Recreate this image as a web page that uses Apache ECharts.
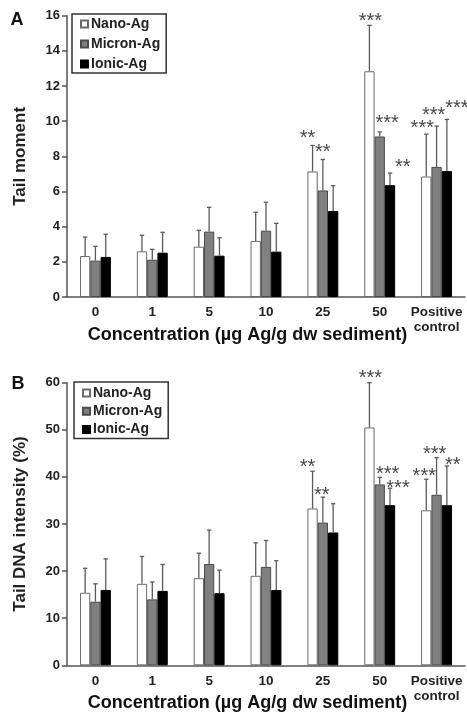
<!DOCTYPE html>
<html>
<head>
<meta charset="utf-8">
<script src="https://cdn.jsdelivr.net/npm/echarts@6/dist/echarts.min.js"></script>
<style>
html,body{margin:0;padding:0;background:#fff;}
#chart{width:467px;height:714px;}
</style>
</head>
<body>
<div id="chart"></div>
<script>
// ---------- DATA ----------
const categories = ['0', '1', '5', '10', '25', '50', 'Positive\ncontrol'];
const seriesNames = ['Nano-Ag', 'Micron-Ag', 'Ionic-Ag'];

// Panel A: Tail moment (mean and SD)
const nanoA   = [2.33, 2.60, 2.86, 3.19, 7.14, 12.84, 6.85];
const nanoASD = [1.08, 0.91, 0.93, 1.63, 1.48, 2.61, 2.41];
const micronA   = [2.07, 2.12, 3.72, 3.77, 6.06, 9.13, 7.40];
const micronASD = [0.81, 0.59, 1.38, 1.62, 1.76, 0.26, 2.32];
const ionicA   = [2.28, 2.52, 2.35, 2.58, 4.89, 6.36, 7.16];
const ionicASD = [1.29, 1.16, 1.02, 1.61, 1.44, 0.69, 2.94];
const nanoAStars   = ['', '', '', '', '**', '***', '***'];
const micronAStars = ['', '', '', '', '**', '***', '***'];
const ionicAStars  = ['', '', '', '', '', '**', '***'];

// Panel B: Tail DNA intensity (%) (mean and SD)
const nanoB   = [15.4, 17.3, 18.5, 19.0, 33.3, 50.5, 32.9];
const nanoBSD = [5.2, 5.8, 5.3, 7.0, 7.9, 9.5, 6.6];
const micronB   = [13.5, 14.0, 21.5, 20.9, 30.3, 38.4, 36.2];
const micronBSD = [3.8, 3.7, 7.2, 5.6, 5.4, 1.5, 7.9];
const ionicB   = [16.0, 15.8, 15.3, 16.0, 28.2, 34.0, 34.0];
const ionicBSD = [6.6, 5.6, 4.9, 6.2, 6.1, 3.6, 8.3];
const nanoBStars   = ['', '', '', '', '**', '***', '***'];
const micronBStars = ['', '', '', '', '**', '***', '***'];
const ionicBStars  = ['', '', '', '', '', '***', '**'];

const yTicksA = [0, 16, 2];   // min, max, interval
const yTicksB = [0, 60, 10];

// ---------- STYLE / LAYOUT ----------
const FONT = 'Arial, "Liberation Sans", Helvetica, sans-serif';
const BAR_W = 10.3;
const barStyles = [
  {color: '#ffffff', borderColor: '#6a6a6a', borderWidth: 1},
  {color: '#808080', borderColor: '#4a4a4a', borderWidth: 1},
  {color: '#000000', borderColor: '#000000', borderWidth: 1}
];
// star label offsets [dx, dy above error top] per panel/series/category (layout only)
const starOffA = [
  [null, null, null, null, [-5, 12], [1, 9], [-4, 11]],
  [null, null, null, null, [0, 12], [7.5, 13], [-3, 16]],
  [null, null, null, null, null, [12.7, 11], [10, 16]]
];
const starOffB = [
  [null, null, null, null, [-5, 9], [1, 9], [-2, 8]],
  [null, null, null, null, [-1, 7], [8, 8], [-2, 8]],
  [null, null, null, null, null, [8, 5], [6, 6]]
];

function barSeries(name, values, k, g) {
  return {
    name: name, type: 'bar', xAxisIndex: g, yAxisIndex: g,
    data: values, barWidth: BAR_W, barGap: '0%',
    itemStyle: barStyles[k], silent: true, z: 2
  };
}

function errSeries(means, sds, stars, k, g, offs) {
  return {
    type: 'custom', xAxisIndex: g, yAxisIndex: g, z: 5, silent: true,
    data: means.map((m, i) => [i, m, sds[i]]),
    encode: {x: 0, y: 1},
    renderItem: function (params, api) {
      const i = api.value(0), m = api.value(1), sd = api.value(2);
      const top = api.coord([i, m + sd]);
      const base = api.coord([i, m]);
      const x = top[0] + (k - 1) * BAR_W;
      const ls = {stroke: '#5a5a5a', lineWidth: 1.3};
      const children = [
        {type: 'line', shape: {x1: x, y1: base[1], x2: x, y2: top[1]}, style: ls},
        {type: 'line', shape: {x1: x - 2.2, y1: top[1], x2: x + 2.2, y2: top[1]}, style: ls}
      ];
      if (stars[i]) {
        const o = offs[k][i] || [0, 10];
        children.push({
          type: 'text',
          style: {
            text: stars[i], x: x + o[0], y: top[1] - o[1] + 5,
            align: 'center', verticalAlign: 'middle',
            font: 'normal 20px ' + FONT, fill: '#4a4a4a'
          }
        });
      }
      return {type: 'group', children: children};
    }
  };
}

function xAxis(g) {
  return {
    type: 'category', gridIndex: g, data: categories,
    axisLine: {lineStyle: {color: '#555', width: 1.5}},
    axisTick: {show: false},
    axisLabel: {interval: 0, color: '#222', fontWeight: 'bold', fontSize: 13.5,
      fontFamily: FONT, margin: 8, lineHeight: 15}
  };
}
function yAxis(g, ticks, name) {
  return {
    type: 'value', gridIndex: g, min: ticks[0], max: ticks[1], interval: ticks[2],
    name: name, nameLocation: 'middle', nameGap: 38,
    nameTextStyle: {color: '#222', fontWeight: 'bold', fontSize: 17, fontFamily: FONT},
    axisLine: {show: true, lineStyle: {color: '#555', width: 1.5}},
    axisTick: {show: true, length: 5, lineStyle: {color: '#555', width: 1.5}},
    splitLine: {show: false},
    axisLabel: {color: '#222', fontWeight: 'bold', fontSize: 13, fontFamily: FONT, margin: 7}
  };
}
function legend(left, top, gap, pad) {
  return {
    data: seriesNames, orient: 'vertical', left: left, top: top,
    itemWidth: 7, itemHeight: 7, itemGap: gap, padding: pad,
    borderColor: '#333', borderWidth: 1.5, icon: 'rect', selectedMode: false,
    textStyle: {fontWeight: 'bold', fontSize: 14, fontFamily: FONT, color: '#222', lineHeight: 14, padding: [0, 0, 0, -2]}
  };
}
function label(text, x, y, size) {
  return {type: 'text', x: x, y: y, style: {text: text, align: 'center', verticalAlign: 'middle',
    font: 'bold ' + size + 'px ' + FONT, fill: '#111'}};
}

const option = {
  animation: false,
  backgroundColor: '#fff',
  grid: [
    {left: 67, right: 2, top: 15.7, height: 281.3},
    {left: 67, right: 2, top: 382.7, height: 282.6}
  ],
  xAxis: [xAxis(0), xAxis(1)],
  yAxis: [yAxis(0, yTicksA, 'Tail moment'), yAxis(1, yTicksB, 'Tail DNA intensity (%)')],
  legend: [legend(72, 14, 6, [3, 6, 2, 8]), legend(74, 382, 4.3, [4, 6, 2, 8])],
  graphic: [
    label('A', 17, 20, 18),
    label('B', 18, 384, 18),
    label('Concentration (µg Ag/g dw sediment)', 247.5, 335, 18),
    label('Concentration (µg Ag/g dw sediment)', 247.5, 703, 18)
  ],
  series: [
    barSeries(seriesNames[0], nanoA, 0, 0),
    barSeries(seriesNames[1], micronA, 1, 0),
    barSeries(seriesNames[2], ionicA, 2, 0),
    barSeries(seriesNames[0], nanoB, 0, 1),
    barSeries(seriesNames[1], micronB, 1, 1),
    barSeries(seriesNames[2], ionicB, 2, 1),
    errSeries(nanoA, nanoASD, nanoAStars, 0, 0, starOffA),
    errSeries(micronA, micronASD, micronAStars, 1, 0, starOffA),
    errSeries(ionicA, ionicASD, ionicAStars, 2, 0, starOffA),
    errSeries(nanoB, nanoBSD, nanoBStars, 0, 1, starOffB),
    errSeries(micronB, micronBSD, micronBStars, 1, 1, starOffB),
    errSeries(ionicB, ionicBSD, ionicBStars, 2, 1, starOffB)
  ]
};

const chart = echarts.init(document.getElementById('chart'), null, {renderer: 'canvas'});
chart.setOption(option);
</script>
</body>
</html>
